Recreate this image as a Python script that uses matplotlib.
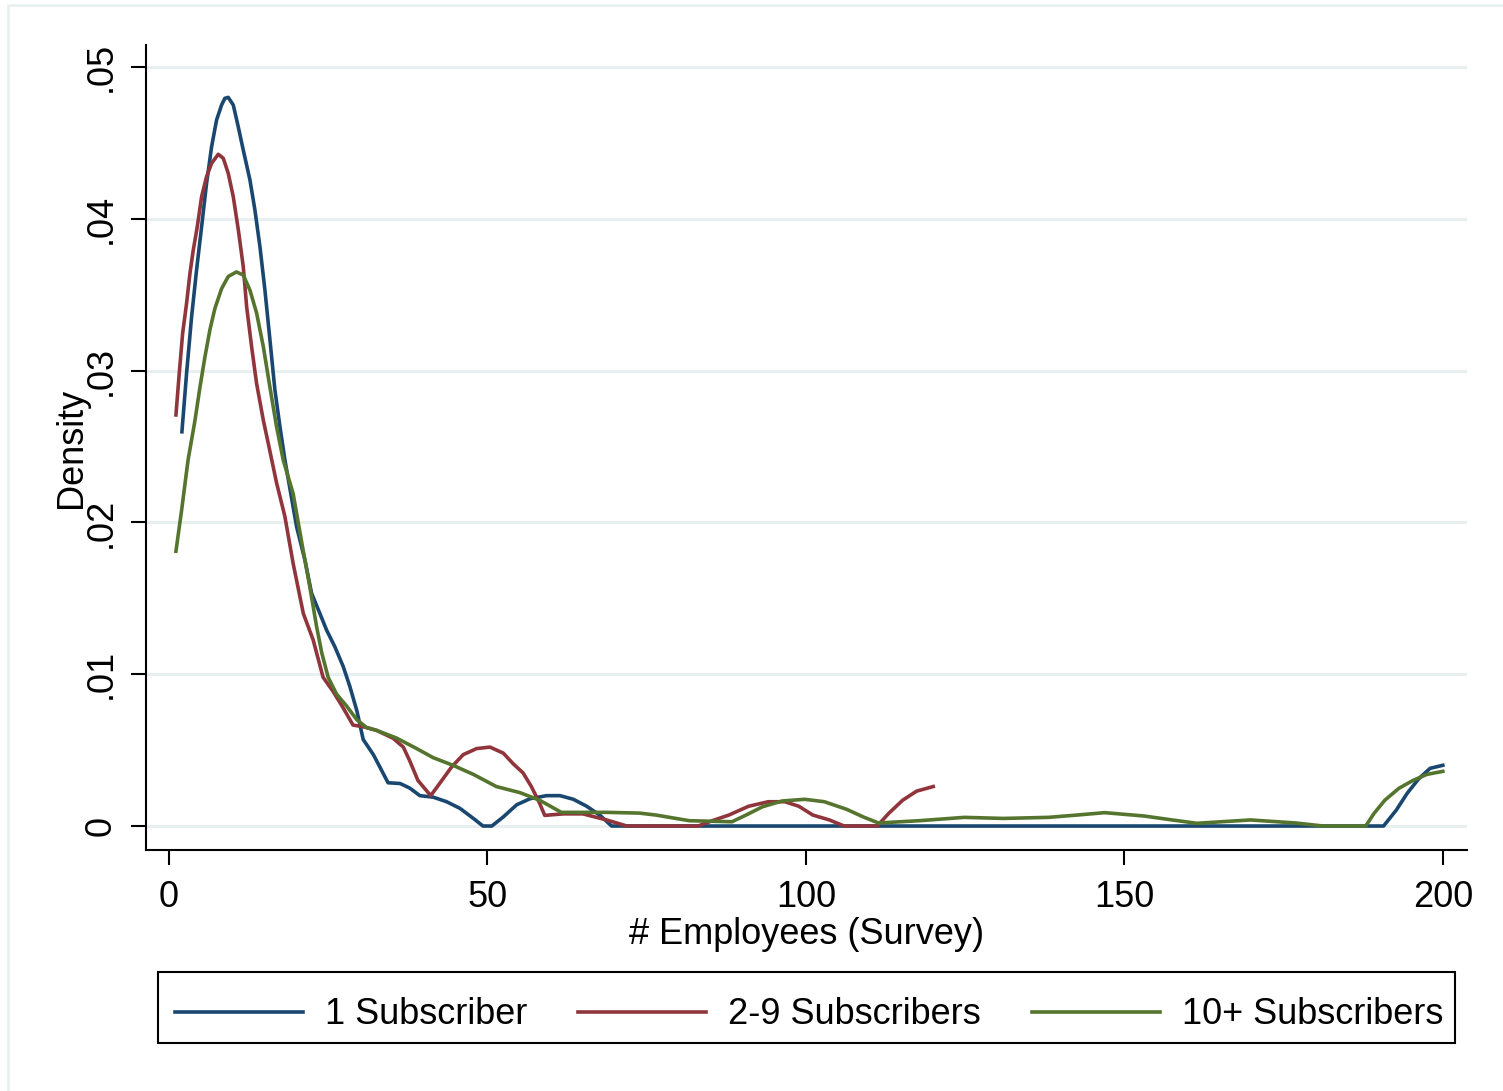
import matplotlib
matplotlib.use("Agg")
import matplotlib.pyplot as plt
from matplotlib.patches import Rectangle

plt.rcParams["font.family"] = ["Liberation Sans", "DejaVu Sans"]

# kernel density estimates (x = employees, y = density)
x_one = [2.04, 2.77, 3.56, 4.34, 5.13, 5.91, 6.70, 7.48, 8.27, 8.79, 9.31, 10.10,
         10.88, 11.67, 12.72, 13.50, 14.29, 15.07, 15.86, 16.64, 17.43, 18.21,
         20.05, 21.35, 22.4, 23.7, 24.76, 26.06, 27.37, 28.4, 29.5, 30.5, 32.1,
         33.1, 34.4, 36.3, 37.8, 39.4, 41.5, 43.6, 45.7, 47.8, 49.3, 50.7, 52.5,
         54.6, 56.7, 59.3, 61.4, 63.5, 65.6, 67.7, 69.5, 190.7, 192.7, 194.4,
         196.2, 198.0, 200.0]
y_one = [0.02597, 0.02982, 0.03355, 0.03663, 0.03948, 0.04234, 0.04475, 0.04651,
         0.04750, 0.04794, 0.04800, 0.04750, 0.04607, 0.04453, 0.04256, 0.04058,
         0.03816, 0.03531, 0.03202, 0.02872, 0.02631, 0.02411, 0.0197, 0.01752,
         0.01533, 0.0140, 0.0129, 0.0118, 0.0105, 0.0092, 0.0076, 0.0057, 0.0047,
         0.0039, 0.00285, 0.0028, 0.0025, 0.0020, 0.0019, 0.0016, 0.00116,
         0.0005, 0.0, 0.0, 0.0006, 0.0014, 0.0018, 0.0020, 0.0020, 0.00176,
         0.0013, 0.0007, 0.0, 0.0, 0.00105, 0.00215, 0.0031, 0.0038, 0.0040]

x_two = [1.10, 1.62, 2.15, 2.77, 3.30, 3.82, 4.45, 5.13, 5.91, 6.70, 7.74, 8.53,
         9.31, 10.1, 10.9, 11.67, 12.2, 12.98, 13.76, 14.81, 15.6, 16.9, 18.2,
         19.5, 21.1, 22.65, 24.2, 25.8, 27.4, 28.9, 30.5, 32.6, 35.2, 36.8, 37.8,
         39.1, 41.1, 42.5, 44.4, 46.2, 48.3, 50.4, 52.5, 54.05, 55.6, 56.9, 58.2,
         59.0, 61.9, 65.0, 68.7, 71.9, 83.1, 85.3, 87.9, 91.0, 94.1, 96.7, 98.9,
         101.1, 103.7, 106.0, 111.2, 113.0, 115.2, 117.4, 120.0]
y_two = [0.02708, 0.02982, 0.03245, 0.03443, 0.03641, 0.03794, 0.03948, 0.04146,
         0.04278, 0.04366, 0.04425, 0.04399, 0.04300, 0.04146, 0.03926, 0.03685,
         0.03421, 0.03158, 0.02916, 0.02675, 0.0252, 0.0226, 0.0204, 0.0173,
         0.0140, 0.01225, 0.0098, 0.00885, 0.00775, 0.00665, 0.00654, 0.0063,
         0.00578, 0.0052, 0.0043, 0.0030, 0.0020, 0.0028, 0.0039, 0.0047, 0.0051,
         0.0052, 0.0048, 0.0041, 0.0035, 0.0026, 0.0015, 0.0007, 0.0008, 0.0008,
         0.0004, 0.0, 0.0, 0.00035, 0.00072, 0.0013, 0.0016, 0.0016, 0.0013,
         0.00072, 0.0004, 0.0, 0.0, 0.00083, 0.0017, 0.0023, 0.0026]

x_ten = [1.1, 1.99, 3.0, 4.08, 4.87, 5.65, 6.44, 7.22, 8.27, 9.31, 10.6, 11.67,
         12.72, 13.76, 14.81, 15.86, 16.9, 17.95, 19.5, 20.8, 22.1, 23.2, 24.0,
         25.0, 26.3, 27.9, 29.5, 31.0, 32.6, 35.7, 38.9, 41.5, 44.6, 47.8, 51.4,
         55.1, 58.2, 61.6, 68.8, 73.9, 76.5, 81.7, 88.4, 90.6, 93.2, 96.3, 99.8,
         102.9, 106.4, 109.0, 111.4, 117.8, 124.9, 131.0, 138.1, 142.5, 146.9,
         153.1, 157.5, 161.4, 169.8, 176.9, 181.2, 187.9, 189.2, 190.9, 193.1,
         195.3, 197.5, 200.0]
y_ten = [0.0181, 0.0208, 0.0241, 0.0267, 0.0289, 0.0309, 0.0327, 0.0341, 0.0354,
         0.0362, 0.0365, 0.0363, 0.0353, 0.0338, 0.0316, 0.0289, 0.0263, 0.0241,
         0.0219, 0.0188, 0.0158, 0.0131, 0.0114, 0.0098, 0.0087, 0.0079, 0.0070,
         0.0065, 0.0063, 0.0058, 0.0051, 0.0045, 0.0040, 0.0034, 0.0026, 0.0022,
         0.0017, 0.0009, 0.0009, 0.00085, 0.00072, 0.00035, 0.00028, 0.00072,
         0.00127, 0.00165, 0.00176, 0.0016, 0.0011, 0.0006, 0.0002, 0.00035,
         0.00057, 0.0005, 0.00057, 0.00072, 0.00088, 0.00066, 0.0004, 0.00018,
         0.0004, 0.0002, 0.0, 0.0, 0.00083, 0.0017, 0.00248, 0.0030, 0.0034,
         0.0036]

labels = ["1 Subscriber", "2-9 Subscribers", "10+ Subscribers"]
colors = ["#1a476f", "#90353b", "#55752f"]

x_ticks = [0, 50, 100, 150, 200]
y_ticks = [0, 0.01, 0.02, 0.03, 0.04, 0.05]
y_ticklabels = ["0", ".01", ".02", ".03", ".04", ".05"]

W, H = 1503, 1091
FS = 26
fig = plt.figure(figsize=(W / 100, H / 100), dpi=100)

# faint outer frame (Stata graph region)
fig.patches.append(Rectangle((8 / W, -0.1), 1.2, 1 - 5 / H + 0.1,
                             transform=fig.transFigure, fill=False,
                             edgecolor="#e8eff1", lw=1.8))

ax = fig.add_axes([146 / W, 1 - 850 / H, (1467 - 146) / W, (850 - 45) / H])

for xs, ys, c, lab in zip([x_one, x_two, x_ten], [y_one, y_two, y_ten],
                          colors, labels):
    ax.plot(xs, ys, color=c, lw=2.6, label=lab, solid_joinstyle="round")

ax.set_xlim(-3.6, 203.8)
ax.set_ylim(-0.00158, 0.05145)

ax.set_yticks(y_ticks)
ax.set_yticklabels(y_ticklabels, rotation=90, va="center")
ax.set_xticks(x_ticks)
ax.grid(axis="y", color="#e8eff1", lw=2.2)
ax.set_axisbelow(True)

for side in ["top", "right"]:
    ax.spines[side].set_visible(False)
ax.spines["left"].set_linewidth(1.5)
ax.spines["bottom"].set_linewidth(1.5)
ax.tick_params(axis="both", length=10.5, width=1.5, labelsize=FS)
ax.tick_params(axis="x", pad=11)
ax.tick_params(axis="y", pad=9)

ax.set_xlabel("# Employees (Survey)", fontsize=FS)
ax.xaxis.set_label_coords(0.5, -0.083)
ax.set_ylabel("Density", fontsize=FS)
ax.yaxis.set_label_coords(-0.043, 0.5)

# legend box
fig.patches.append(Rectangle((158 / W, 1 - 1043 / H), (1455 - 158) / W, 71 / H,
                             transform=fig.transFigure, fill=False,
                             edgecolor="black", lw=1.5))
fig.legend(loc="center left", bbox_to_anchor=(175 / W, 1 - 1015 / H),
           ncol=3, frameon=False, fontsize=FS, handlelength=3.55,
           handletextpad=0.61, columnspacing=1.4, borderpad=0,
           borderaxespad=0)

fig.savefig("out.png", dpi=100)
